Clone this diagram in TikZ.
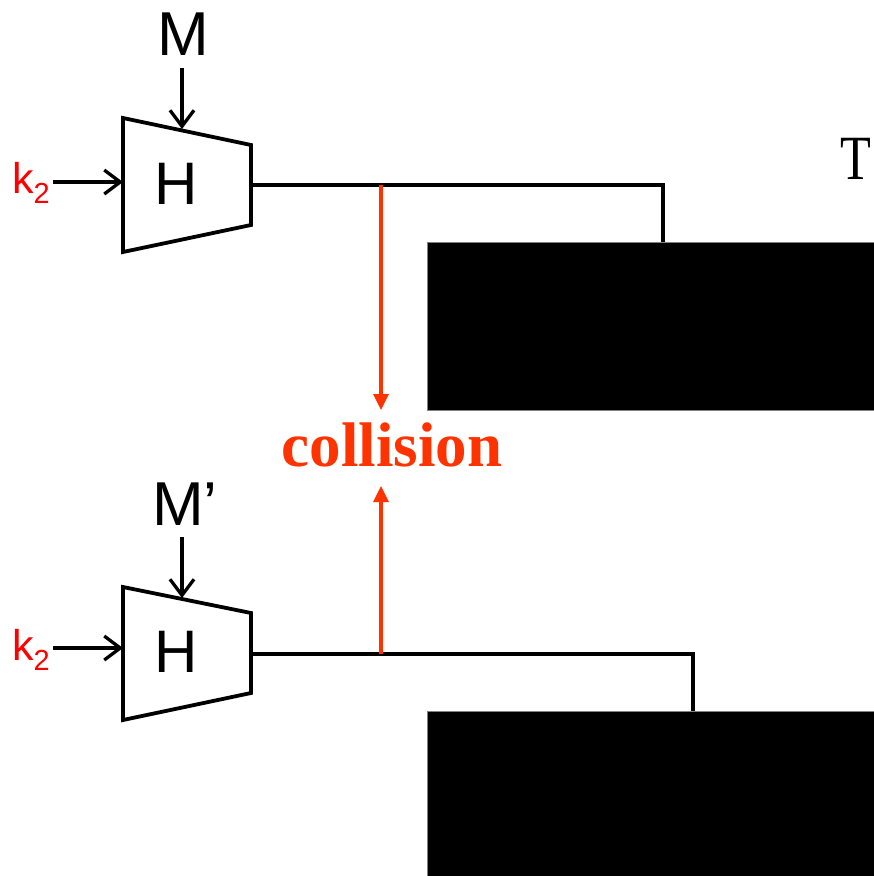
\documentclass[tikz,border=0pt]{standalone}
\usepackage{fontspec}
\setmainfont{Liberation Sans}
\newfontfamily\serifx{Liberation Serif}
\usetikzlibrary{arrows.meta}
\definecolor{collred}{RGB}{255,51,0}
\definecolor{kred}{RGB}{255,0,0}
\tikzset{
  wire/.style={line width=3.3pt},
  inarrow/.style={line width=3.3pt,-{Straight Barb[length=16pt,width=24pt,line width=3.3pt]}},
  redarrow/.style={collred,line width=3.3pt,-{Triangle[length=16pt,width=15pt]}},
  hbox/.style={line width=3.8pt,line join=miter},
  blk/.style={fill=black,draw=gray,line width=0.6pt,inner sep=0pt,anchor=north west},
  lbl/.style={inner sep=0pt,font=\fontsize{60}{60}\selectfont},
  klbl/.style={inner sep=0pt,text=kred,font=\fontsize{43}{43}\selectfont,anchor=base west},
}
\begin{document}
\begin{tikzpicture}[x=1pt,y=-1pt]
\useasboundingbox (0,0) rectangle (874,876);
% ---------- top hash ----------
\draw[hbox] (123,118) -- (251,145) -- (251,225) -- (123,252) -- cycle;
\node[lbl] (H1) at (176,184) {H};
\coordinate (H1in) at (123,182);
\coordinate (H1top) at (182,129);
\coordinate (H1out) at (251,185);
\node[lbl,font=\fontsize{62}{62}\selectfont] (M1) at (183,34) {M};
\node[klbl] (k1) at (12,193) {k\raisebox{-10pt}{\fontsize{29}{29}\selectfont 2}};
\draw[inarrow] (53,182) coordinate (k1a) -- (H1in);
\draw[inarrow] (182,68) coordinate (M1a) -- (H1top);
\node[blk,minimum width=448pt,minimum height=168pt] (B1) at (427,242) {};
\coordinate (J1) at (381,185);
\coordinate (B1in) at (663,242);
\draw[wire,line join=miter] (H1out) -- (J1) -| (B1in);
% ---------- bottom hash ----------
\draw[hbox] (123,587) -- (251,613) -- (251,693) -- (123,720) -- cycle;
\node[lbl] (H2) at (176,652) {H};
\coordinate (H2in) at (123,648);
\coordinate (H2top) at (182,598);
\coordinate (H2out) at (251,654);
\node[lbl,font=\fontsize{62}{62}\selectfont] (M2) at (185,504) {M’};
\node[klbl] (k2) at (12,660) {k\raisebox{-10pt}{\fontsize{29}{29}\selectfont 2}};
\draw[inarrow] (53,648) coordinate (k2a) -- (H2in);
\draw[inarrow] (182,537) coordinate (M2a) -- (H2top);
\node[blk,minimum width=448pt,minimum height=166pt] (B2) at (427,711) {};
\coordinate (J2) at (381,654);
\coordinate (B2in) at (693,711);
\draw[wire,line join=miter] (H2out) -- (J2) -| (B2in);
% ---------- collision ----------
\node[inner sep=0pt,anchor=base,text=collred,font=\serifx\bfseries\fontsize{63}{63}\selectfont] (coll) at (392,466) {collision};
\coordinate (C1) at (381,410);
\coordinate (C2) at (381,486);
\draw[redarrow] (J1) -- (C1);
\draw[redarrow] (J2) -- (C2);
% ---------- T ----------
\node[inner sep=0pt,anchor=base east,font=\serifx\fontsize{63}{63}\selectfont] (T) at (871,179) {\scalebox{0.8}[1]{T}};
\end{tikzpicture}
\end{document}
